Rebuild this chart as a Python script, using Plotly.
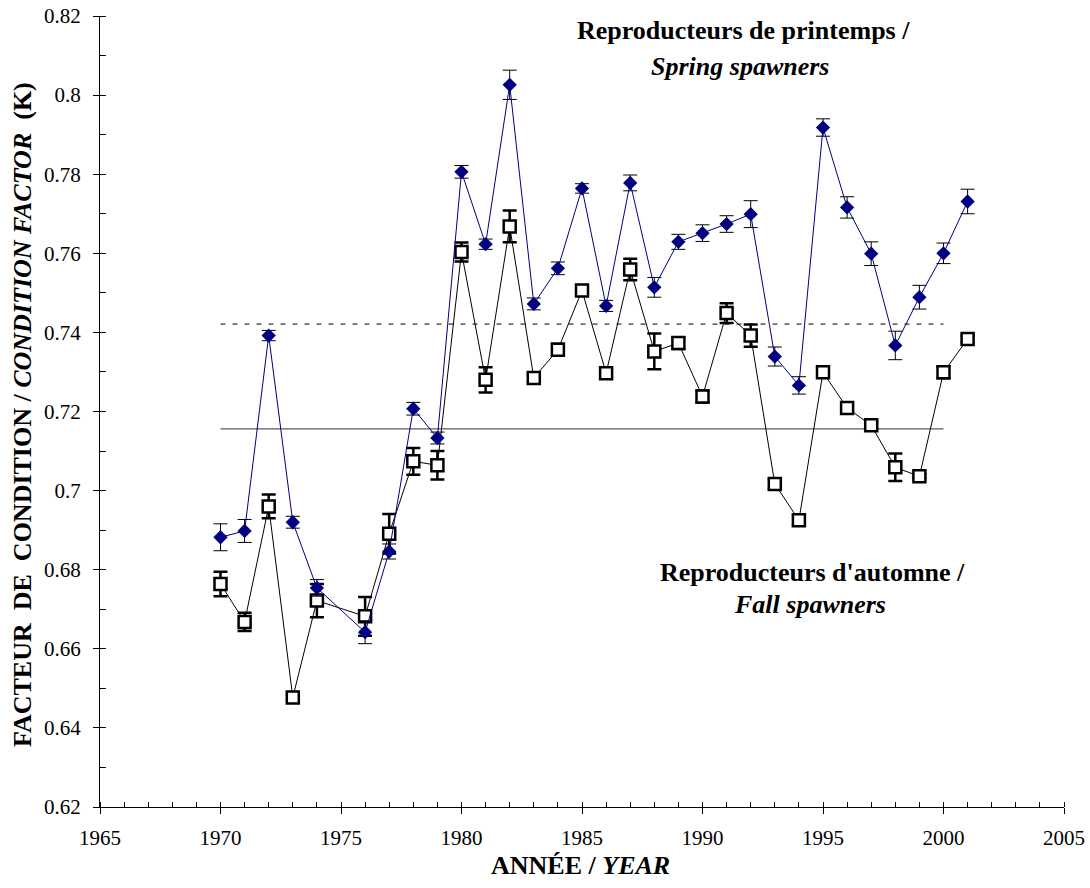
import plotly.graph_objects as go

# ---- data ----
spring_years = [1970, 1971, 1972, 1973, 1974, 1976, 1977, 1978, 1979, 1980, 1981, 1982, 1983,
                1984, 1985, 1986, 1987, 1988, 1989, 1990, 1991, 1992, 1993, 1994, 1995, 1996,
                1997, 1998, 1999, 2000, 2001]
spring_k = [0.6882, 0.6898, 0.7392, 0.6920, 0.6754, 0.6642, 0.6846, 0.7207, 0.7133, 0.7806,
            0.7623, 0.8026, 0.7472, 0.7562, 0.7764, 0.7467, 0.7778, 0.7514, 0.7629, 0.7651,
            0.7674, 0.7699, 0.7339, 0.7266, 0.7918, 0.7716, 0.7599, 0.7367, 0.7489, 0.7600,
            0.7731]
spring_err = [0.0034, 0.0029, 0.0013, 0.0015, 0.0021, 0.0029, 0.0019, 0.0016, 0.0015, 0.0016,
              0.0013, 0.0037, 0.0015, 0.0016, 0.0012, 0.0014, 0.0020, 0.0025, 0.0019, 0.0021,
              0.0021, 0.0034, 0.0024, 0.0022, 0.0022, 0.0027, 0.0030, 0.0036, 0.0030, 0.0026,
              0.0031]

fall_years = spring_years
fall_k = [0.6764, 0.6668, 0.6960, 0.6477, 0.6722, 0.6682, 0.6891, 0.7074, 0.7064, 0.7603,
          0.7280, 0.7668, 0.7285, 0.7356, 0.7506, 0.7297, 0.7559, 0.7352, 0.7373, 0.7238,
          0.7449, 0.7392, 0.7017, 0.6925, 0.7299, 0.7209, 0.7165, 0.7059, 0.7036, 0.7299,
          0.7383]
fall_err = [0.0031, 0.0023, 0.0030, 0.0008, 0.0042, 0.0049, 0.0050, 0.0034, 0.0036, 0.0024,
            0.0032, 0.0040, 0.0010, 0.0015, 0.0010, 0.0012, 0.0027, 0.0045, 0.0015, 0.0015,
            0.0025, 0.0028, 0.0012, 0.0012, 0.0005, 0.0012, 0.0008, 0.0035, 0.0005, 0.0015,
            0.0008]

mean_span = [1970, 2000]
spring_mean = 0.7421
fall_mean = 0.7156

FONT = "Liberation Serif"
NAVY = "#000080"

fig = go.Figure()

# mean lines
fig.add_trace(go.Scatter(x=mean_span, y=[spring_mean, spring_mean], mode="lines",
                         line=dict(color="black", width=1, dash="5px,7px"),
                         showlegend=False, hoverinfo="skip"))
fig.add_trace(go.Scatter(x=mean_span, y=[fall_mean, fall_mean], mode="lines",
                         line=dict(color="#5a5a5a", width=1.2),
                         showlegend=False, hoverinfo="skip"))

# fall spawners
fig.add_trace(go.Scatter(
    x=fall_years, y=fall_k, mode="lines+markers", name="Fall",
    line=dict(color="black", width=1),
    marker=dict(symbol="square", size=12, color="white", line=dict(color="black", width=2.5)),
    error_y=dict(type="data", array=fall_err, visible=True, color="black", thickness=2.5, width=7),
    showlegend=False))

# spring spawners
fig.add_trace(go.Scatter(
    x=spring_years, y=spring_k, mode="lines+markers", name="Spring",
    line=dict(color=NAVY, width=1),
    marker=dict(symbol="diamond", size=11, color=NAVY, line=dict(width=0)),
    error_y=dict(type="data", array=spring_err, visible=True, color="black", thickness=1, width=7),
    showlegend=False))

# empty trace to attach overlay axes (for crossing major ticks)
fig.add_trace(go.Scatter(x=[], y=[], xaxis="x2", yaxis="y2", showlegend=False, hoverinfo="skip"))

xrange = [1965, 2005]
yrange = [0.62, 0.82]

fig.update_layout(
    width=1090, height=888,
    margin=dict(l=100, r=26, t=16, b=81, autoexpand=False),
    paper_bgcolor="white", plot_bgcolor="white",
    font=dict(family=FONT, size=21, color="black"),
    xaxis=dict(range=xrange, tickmode="linear", tick0=1965, dtick=5,
               ticks="outside", ticklen=6, tickwidth=1, tickcolor="black",
               minor=dict(ticks="inside", ticklen=5, tickwidth=1, tickcolor="black",
                          tickmode="linear", tick0=1965, dtick=1),
               showline=True, linecolor="black", linewidth=1, automargin=False,
               showgrid=False, zeroline=False, ticklabelstandoff=6,
               tickfont=dict(family=FONT, size=21)),
    yaxis=dict(range=yrange, tickmode="linear", tick0=0.62, dtick=0.02,
               ticks="outside", ticklen=6, tickwidth=1, tickcolor="black",
               minor=dict(ticks="inside", ticklen=6, tickwidth=1, tickcolor="black",
                          tickmode="linear", tick0=0.62, dtick=0.01),
               showline=True, linecolor="black", linewidth=1, automargin=False,
               showgrid=False, zeroline=False, ticklabelstandoff=8,
               tickformat="~g",
               tickfont=dict(family=FONT, size=21)),
    xaxis2=dict(range=xrange, overlaying="x", anchor="y", side="bottom",
                tickmode="linear", tick0=1965, dtick=5, ticks="inside", ticklen=5,
                tickcolor="black", showticklabels=False, showline=False, automargin=False,
                showgrid=False, zeroline=False),
    yaxis2=dict(range=yrange, overlaying="y", anchor="x", side="left",
                tickmode="linear", tick0=0.62, dtick=0.02, ticks="inside", ticklen=6,
                tickcolor="black", showticklabels=False, showline=False, automargin=False,
                showgrid=False, zeroline=False),
)

annotations = [
    dict(text="<b>Reproducteurs de printemps /</b>", x=743, y=31),
    dict(text="<b><i>Spring spawners</i></b>", x=740, y=66),
    dict(text="<b>Reproducteurs d'automne /</b>", x=812, y=572),
    dict(text="<b><i>Fall spawners</i></b>", x=810, y=604),
    dict(text="<b>ANNÉE / <i>YEAR</i></b>", x=580, y=866),
]
W, H = 1090, 888
L, R, T, B = 100, 26, 16, 81
pw, ph = W - L - R, H - T - B
for a in annotations:
    fig.add_annotation(text=a["text"], xref="paper", yref="paper",
                       x=(a["x"] - L) / pw, y=(H - B - a["y"]) / ph,
                       xanchor="center", yanchor="middle", showarrow=False,
                       font=dict(family=FONT, size=26, color="black"))

fig.add_annotation(
    text="<b>FACTEUR\u00a0\u00a0DE\u00a0\u00a0CONDITION / <i>CONDITION FACTOR</i>\u00a0\u00a0(K)</b>",
    xref="paper", yref="paper", x=(22 - L) / pw, y=(H - B - 415) / ph,
    xanchor="center", yanchor="middle", textangle=-90, showarrow=False,
    font=dict(family=FONT, size=26, color="black"))

fig.write_html("out.html")
